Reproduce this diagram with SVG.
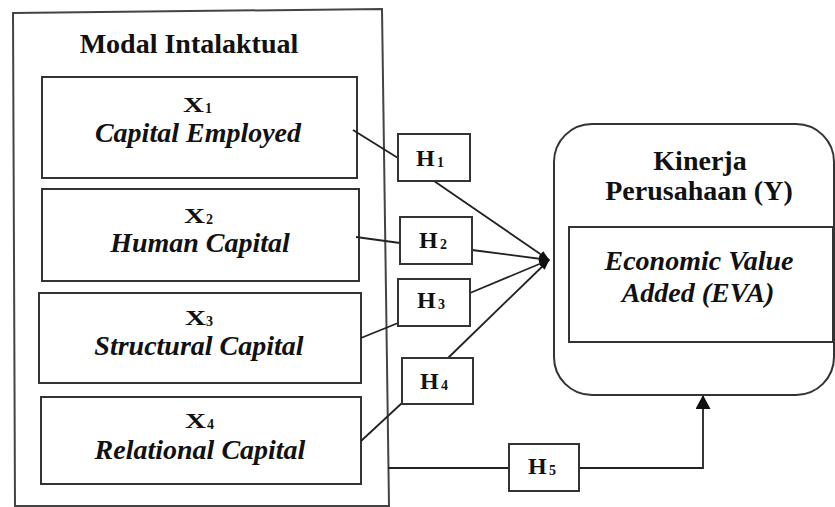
<svg xmlns="http://www.w3.org/2000/svg" width="835" height="507" viewBox="0 0 835 507">
<style>
  .box { fill: #fff; stroke: #333; stroke-width: 2; }
  .frame { fill: none; stroke: #444; stroke-width: 2; }
  .t { font-family: "Liberation Serif", "Times New Roman", serif; fill: #111; }
  .b { font-weight: bold; }
  .bi { font-weight: bold; font-style: italic; }
  .big { font-size: 28px; }
  .sub { font-size: 14px; font-weight: bold; }
  .line { fill: none; stroke: #222; stroke-width: 1.8; }
</style>
<defs>
  <marker id="arr" markerUnits="userSpaceOnUse" markerWidth="11" markerHeight="8" refX="10" refY="4" orient="auto">
    <path d="M0,0 L11,4 L0,8 z" fill="#111"/>
  </marker>
  <marker id="arrUp" markerUnits="userSpaceOnUse" markerWidth="14" markerHeight="15" refX="13" refY="7.5" orient="auto">
    <path d="M0,0 L14,7.5 L0,15 z" fill="#111"/>
  </marker>
</defs>

<g id="modal-intalaktual">
  <path class="frame" d="M13,13 L382,9 L389,506 L15,506 Z"/>
  <text class="t b big" x="189" y="53" text-anchor="middle">Modal Intalaktual</text>
</g>

<g id="x1">
  <rect class="box" x="42" y="77" width="315" height="101"/>
  <text class="t b" x="183" y="112" font-size="21" textLength="21" lengthAdjust="spacingAndGlyphs">X</text>
  <text class="t sub" x="205" y="113">1</text>
  <text class="t bi big" x="198" y="142" text-anchor="middle">Capital Employed</text>
</g>
<g id="x2">
  <rect class="box" x="42" y="189" width="317" height="92"/>
  <text class="t b" x="184" y="223" font-size="21" textLength="21" lengthAdjust="spacingAndGlyphs">X</text>
  <text class="t sub" x="206" y="224">2</text>
  <text class="t bi big" x="200" y="252" text-anchor="middle">Human Capital</text>
</g>
<g id="x3">
  <rect class="box" x="39" y="293" width="322" height="90"/>
  <text class="t b" x="185" y="325" font-size="21" textLength="21" lengthAdjust="spacingAndGlyphs">X</text>
  <text class="t sub" x="206" y="326">3</text>
  <text class="t bi big" x="199" y="355" text-anchor="middle">Structural Capital</text>
</g>
<g id="x4">
  <rect class="box" x="41" y="397" width="320" height="87"/>
  <text class="t b" x="185" y="428" font-size="21" textLength="21" lengthAdjust="spacingAndGlyphs">X</text>
  <text class="t sub" x="207" y="429">4</text>
  <text class="t bi big" x="200" y="459" text-anchor="middle">Relational Capital</text>
</g>

<g id="connectors">
  <line class="line" x1="353" y1="130" x2="398" y2="158"/>
  <line class="line" x1="356" y1="237" x2="400" y2="243"/>
  <line class="line" x1="361" y1="338" x2="398" y2="323"/>
  <line class="line" x1="361" y1="441" x2="402" y2="403"/>
  <line class="line" x1="434" y1="181" x2="549" y2="260" marker-end="url(#arr)"/>
  <line class="line" x1="472" y1="250" x2="549" y2="260" marker-end="url(#arr)"/>
  <line class="line" x1="470" y1="293" x2="549" y2="260" marker-end="url(#arr)"/>
  <line class="line" x1="448" y1="358" x2="549" y2="260" marker-end="url(#arr)"/>
  <line class="line" x1="388" y1="468" x2="509" y2="468"/>
  <polyline class="line" points="579,468 703,468 703,396" marker-end="url(#arrUp)"/>
</g>

<g id="h1">
  <rect class="box" x="398" y="134" width="72" height="47"/>
  <text class="t b" x="416" y="166" font-size="24">H</text>
  <text class="t sub" x="437" y="167">1</text>
</g>
<g id="h2">
  <rect class="box" x="400" y="217" width="72" height="47"/>
  <text class="t b" x="419" y="248" font-size="24">H</text>
  <text class="t sub" x="440" y="249">2</text>
</g>
<g id="h3">
  <rect class="box" x="398" y="279" width="72" height="47"/>
  <text class="t b" x="417" y="308" font-size="24">H</text>
  <text class="t sub" x="438" y="309">3</text>
</g>
<g id="h4">
  <rect class="box" x="402" y="358" width="71" height="46"/>
  <text class="t b" x="420" y="389" font-size="24">H</text>
  <text class="t sub" x="441" y="390">4</text>
</g>
<g id="h5">
  <rect class="box" x="509" y="444" width="70" height="47"/>
  <text class="t b" x="528" y="474" font-size="24">H</text>
  <text class="t sub" x="549" y="475">5</text>
</g>

<g id="y">
  <rect class="box" x="554" y="124" width="280" height="271" rx="38" ry="38"/>
  <text class="t b big" x="700" y="170" text-anchor="middle">Kinerja</text>
  <text class="t b big" x="699" y="200" text-anchor="middle">Perusahaan (Y)</text>
  <rect class="box" x="569" y="227" width="264" height="115"/>
  <text class="t bi big" x="699" y="270" text-anchor="middle">Economic Value</text>
  <text class="t bi big" x="698" y="302" text-anchor="middle">Added (EVA)</text>
</g>
</svg>
